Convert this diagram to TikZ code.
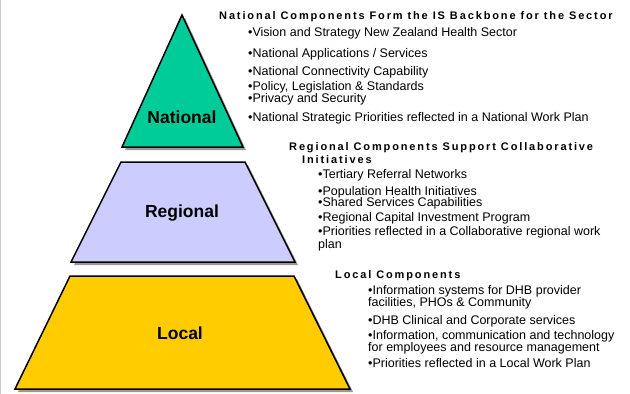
\documentclass[tikz,border=0pt]{standalone}
\usepackage{fontspec}
\setmainfont{Liberation Sans}
\newfontfamily\headfont[LetterSpace=17]{Liberation Sans Bold}
\definecolor{natgreen}{HTML}{00CC99}
\definecolor{reglav}{HTML}{CCCCFF}
\definecolor{locgold}{HTML}{FFCC00}
\definecolor{shadowgray}{HTML}{999999}
\definecolor{framegray}{HTML}{CCCCCC}
\tikzset{
  tier/.style={draw=black, line width=1.5pt, line join=miter},
  tiershadow/.style={fill=shadowgray, draw=none},
  item/.style={anchor=base west, inner sep=0pt, font=\fontsize{12.5}{12.5}\selectfont},
  wrapitem/.style={anchor=base west, inner sep=0pt, align=left, font=\fontsize{12.5}{#1}\selectfont},
  head/.style={anchor=base west, inner sep=0pt, font=\headfont\fontsize{11}{11}\selectfont},
  lbl/.style={inner sep=0pt, font=\bfseries\fontsize{17.5}{17.5}\selectfont}
}
\begin{document}
\begin{tikzpicture}[x=1pt,y=-1pt]
\useasboundingbox (0,0) rectangle (630,394);
\fill[white] (0,0) rectangle (630,394);
\draw[framegray, line width=1pt] (0.5,0) -- (0.5,394);
% shadows
\fill[tiershadow] (185,18) -- (246,150) -- (125,150) -- cycle;
\fill[tiershadow] (124,165) -- (248,165) -- (298,265) -- (74,265) -- cycle;
\fill[tiershadow] (73,279) -- (297,279) -- (353,392) -- (18,392) -- cycle;
% tiers
\filldraw[tier, fill=natgreen] (182,15) -- (243,147) -- (122,147) -- cycle;
\filldraw[tier, fill=reglav] (121,162) -- (245,162) -- (295,262) -- (71,262) -- cycle;
\filldraw[tier, fill=locgold] (70,276) -- (294,276) -- (350,389) -- (15,389) -- cycle;
\node[lbl] (natl) at (182,117) {National};
\node[lbl] (regl) at (182,213) {Regional};
\node[lbl] (locl) at (180,333) {Local};
% National text
\node[head] (nh) at (219,19.3) {National Components Form the IS Backbone for the Sector};
\node[item] (n1) at (248,36.7) {•Vision and Strategy New Zealand Health Sector};
\node[item] (n2) at (248,57.3) {•National Applications / Services};
\node[item] (n3) at (248,75) {•National Connectivity Capability};
\node[item] (n4) at (248,90.7) {•Policy, Legislation \& Standards};
\node[item] (n5) at (248,102.7) {•Privacy and Security};
\node[item] (n6) at (248,121) {•National Strategic Priorities reflected in a National Work Plan};
% Regional text
\node[head] (rh) at (289,150.7) {Regional Components Support Collaborative};
\node[head] (rh2) at (302,163.3) {Initiatives};
\node[item] (r1) at (318,178.3) {•Tertiary Referral Networks};
\node[item] (r2) at (318,195) {•Population Health Initiatives};
\node[item] (r3) at (318,206.7) {•Shared Services Capabilities};
\node[item] (r4) at (318,221.7) {•Regional Capital Investment Program};
\node[wrapitem=11.6] (r5) at (318,248.3) {•Priorities reflected in a Collaborative regional work\\plan};
% Local text
\node[head] (lh) at (335,278.3) {Local Components};
\node[wrapitem=10.7] (l1) at (368,306.7) {•Information systems for DHB provider\\facilities, PHOs \& Community};
\node[item] (l2) at (368,324) {•DHB Clinical and Corporate services};
\node[wrapitem=10.7] (l3) at (368,351.7) {•Information, communication and technology\\for employees and resource management};
\node[item] (l4) at (368,367.7) {•Priorities reflected in a Local Work Plan};
\end{tikzpicture}
\end{document}
